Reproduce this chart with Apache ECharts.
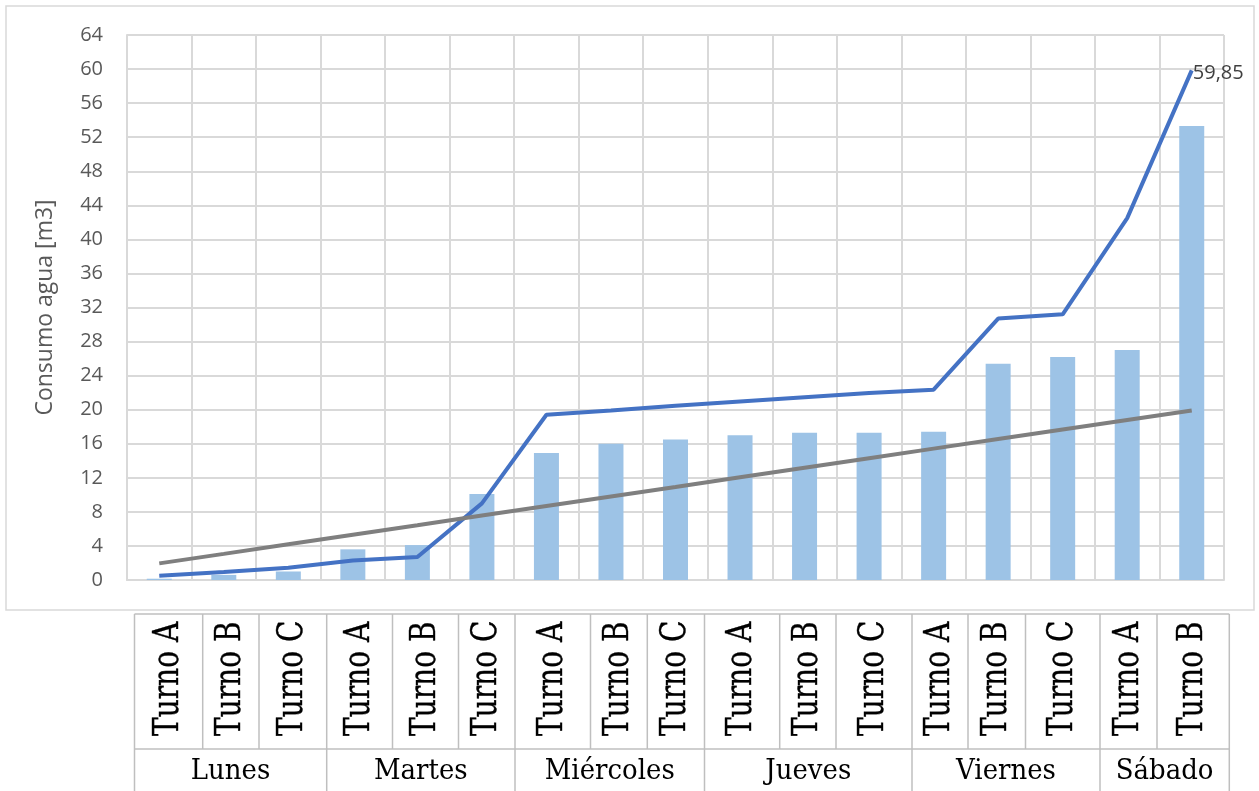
<!DOCTYPE html>
<html>
<head>
<meta charset="utf-8">
<script src="https://cdn.jsdelivr.net/npm/echarts@6/dist/echarts.min.js"></script>
<style>
  html, body { margin: 0; padding: 0; background: #ffffff; }
  #chart { width: 1259px; height: 791px; }
</style>
</head>
<body>
<div id="chart"></div>
<script>
// Days and the shifts recorded on each day
const dias = ['Lunes', 'Martes', 'Miércoles', 'Jueves', 'Viernes', 'Sábado'];
const turnosPorDia = [
  ['Turno A', 'Turno B', 'Turno C'],
  ['Turno A', 'Turno B', 'Turno C'],
  ['Turno A', 'Turno B', 'Turno C'],
  ['Turno A', 'Turno B', 'Turno C'],
  ['Turno A', 'Turno B', 'Turno C'],
  ['Turno A', 'Turno B']
];

// Water consumption per shift [m3]
const consumo = [0.15, 0.6, 1.0, 3.6, 4.1, 10.1, 14.9, 16.0, 16.5, 17.0, 17.3, 17.3, 17.4, 25.4, 26.2, 27.0, 53.3];
// Upper (blue) curve [m3]
const curvaSuperior = [0.5, 0.95, 1.45, 2.3, 2.7, 9.0, 19.4, 19.9, 20.45, 20.95, 21.45, 21.95, 22.35, 30.7, 31.2, 42.5, 59.85];
// Reference (grey) line [m3]
const referencia = [1.95, 3.07, 4.2, 5.32, 6.44, 7.57, 8.69, 9.81, 10.93, 12.06, 13.18, 14.3, 15.43, 16.55, 17.67, 18.79, 19.9];

// Y axis range
const yMin = 0, yMax = 64, yStep = 4;

// Layout of the category table under the plot (cell edges, px)
const tablaBordes = [134.5, 202.7, 259, 326.7, 392.5, 458.5, 515, 590.5, 647.3, 704.5, 779.7, 836, 912, 968, 1025.5, 1100, 1157, 1229.3];
const tablaTop = 614, tablaMedio = 749, tablaBottom = 800;

const categorias = [];
turnosPorDia.forEach((ts, i) => ts.forEach(t => categorias.push(dias[i] + ' ' + t)));
const turnos = [].concat(...turnosPorDia);

const chart = echarts.init(document.getElementById('chart'), null, { renderer: 'canvas' });

// Table drawn with graphic elements
const grafTabla = [];
const lineaTabla = { stroke: '#bfbfbf', lineWidth: 1.5 };
grafTabla.push({ type: 'line', shape: { x1: tablaBordes[0], y1: tablaTop, x2: tablaBordes[tablaBordes.length - 1], y2: tablaTop }, style: lineaTabla, silent: true });
grafTabla.push({ type: 'line', shape: { x1: tablaBordes[0], y1: tablaMedio, x2: tablaBordes[tablaBordes.length - 1], y2: tablaMedio }, style: lineaTabla, silent: true });
// day boundaries run through both rows, shift boundaries only through the upper row
let idx = 0;
const finDia = new Set([0]);
turnosPorDia.forEach(ts => { idx += ts.length; finDia.add(idx); });
tablaBordes.forEach((x, i) => {
  grafTabla.push({ type: 'line', shape: { x1: x, y1: tablaTop, x2: x, y2: finDia.has(i) ? tablaBottom : tablaMedio }, style: lineaTabla, silent: true });
});
turnos.forEach((t, i) => {
  const cx = (tablaBordes[i] + tablaBordes[i + 1]) / 2;
  grafTabla.push({
    type: 'text', x: cx, y: 736, rotation: Math.PI / 2, scaleY: 1.28,
    style: { text: t, font: '28px "DejaVu Serif"', fill: '#000000', stroke: '#000000', lineWidth: 0.3, align: 'left', verticalAlign: 'middle' },
    silent: true
  });
});
idx = 0;
dias.forEach((d, i) => {
  const x0 = tablaBordes[idx];
  idx += turnosPorDia[i].length;
  const x1 = tablaBordes[idx];
  grafTabla.push({
    type: 'text', x: (x0 + x1) / 2, y: 772, scaleY: 1.05,
    style: { text: d, font: '26px "DejaVu Serif"', fill: '#000000', align: 'center', verticalAlign: 'middle' },
    silent: true
  });
});

const option = {
  backgroundColor: '#ffffff',
  animation: false,
  textStyle: { fontFamily: '"Open Sans", sans-serif' },
  graphic: [
    { type: 'rect', shape: { x: 6, y: 6, width: 1248, height: 604 }, style: { fill: 'none', stroke: '#d9d9d9', lineWidth: 1.5 }, silent: true, z: -1 },
    ...grafTabla
  ],
  grid: { left: 127, right: 35, top: 35, bottom: 211, containLabel: false },
  xAxis: {
    type: 'category',
    data: categorias,
    boundaryGap: true,
    axisLine: { show: true, lineStyle: { color: '#d9d9d9', width: 2 } },
    axisTick: { show: false, interval: 0 },
    axisLabel: { show: false, interval: 0 },
    splitLine: { show: true, interval: 0, lineStyle: { color: '#d9d9d9', width: 2 } }
  },
  yAxis: {
    type: 'value',
    min: yMin, max: yMax, interval: yStep,
    name: 'Consumo agua [m3]',
    nameLocation: 'middle',
    nameRotate: 90,
    nameGap: 70,
    nameTextStyle: { color: '#595959', fontSize: 23, fontFamily: '"Open Sans"' },
    axisLine: { show: true, lineStyle: { color: '#d9d9d9', width: 2 } },
    axisTick: { show: false },
    axisLabel: { color: '#595959', fontSize: 20, margin: 24, fontFamily: '"Open Sans"' },
    splitLine: { show: true, lineStyle: { color: '#d9d9d9', width: 2 } }
  },
  series: [
    {
      type: 'bar', data: consumo, barWidth: 25,
      itemStyle: { color: '#9dc3e6' }
    },
    {
      type: 'line', data: curvaSuperior, symbol: 'circle', symbolSize: 0.1, showSymbol: true,
      smooth: false,
      itemStyle: { color: '#4472c4' },
      lineStyle: { color: '#4472c4', width: 4 },
      label: {
        show: true, position: 'right', distance: 1, offset: [0, 3],
        color: '#404040', fontSize: 20, fontFamily: '"Open Sans"',
        formatter: p => p.dataIndex === curvaSuperior.length - 1 ? String(p.value).replace('.', ',') : ''
      },
      z: 3
    },
    {
      type: 'line', data: referencia, symbol: 'none', smooth: false,
      lineStyle: { color: '#7f7f7f', width: 4 },
      z: 4
    }
  ]
};
chart.setOption(option);
</script>
</body>
</html>
